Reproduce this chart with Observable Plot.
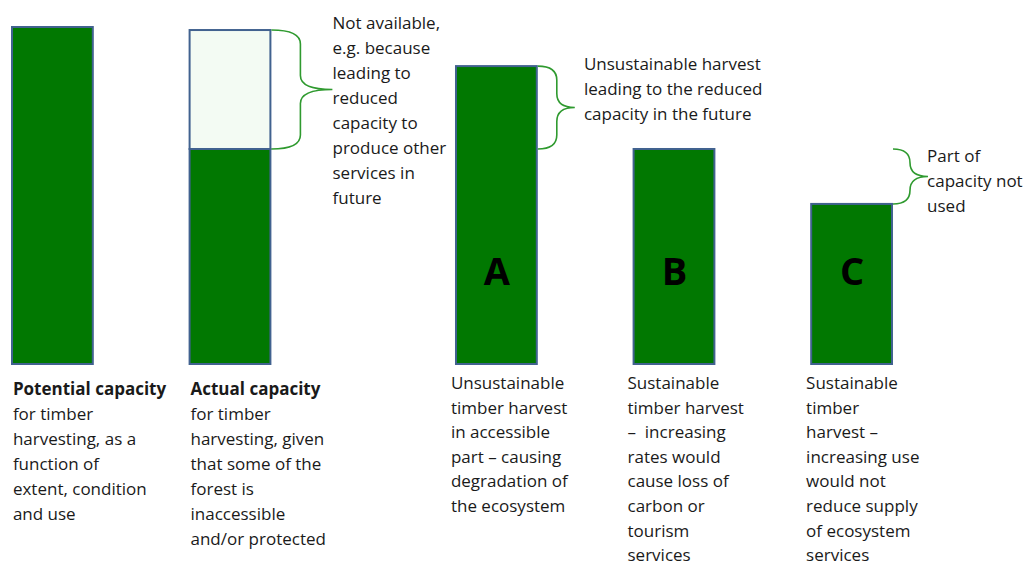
<!DOCTYPE html>
<html>
<head>
<meta charset="utf-8">
<script src="https://cdn.jsdelivr.net/npm/d3@7"></script>
<script src="https://cdn.jsdelivr.net/npm/@observablehq/plot@0.6"></script>
<style>
  html, body { margin: 0; padding: 0; background: #fff; }
  svg { display: block; }
</style>
</head>
<body>
<div id="chart"></div>
<script>
// ---- data ----
const bars = ["Potential", "Actual", "A", "B", "C"];
// capacity in % of potential capacity
const accessible = [100, 63.8, 88.4, 63.8, 47.5];   // dark green part
const notAvailable = [0, 35.3, 0, 0, 0];             // light part on top
const letters = ["", "", "A", "B", "C"];
const headings = ["Potential capacity", "Actual capacity", "", "", ""];
const captions = [
  "for timber\nharvesting, as a\nfunction of\nextent, condition\nand use",
  "for timber\nharvesting, given\nthat some of the\nforest is\ninaccessible\nand/or protected",
  "Unsustainable\ntimber harvest\nin accessible\npart \u2013 causing\ndegradation of\nthe ecosystem",
  "Sustainable\ntimber harvest\n\u2013  increasing\nrates would\ncause loss of\ncarbon or\ntourism\nservices",
  "Sustainable\ntimber\nharvest \u2013\nincreasing use\nwould not\nreduce supply\nof ecosystem\nservices"
];
// braces: bar, from, to, note
const braceBar = ["Actual", "A", "C"];
const braceFrom = [63.8, 63.8, 47.5];
const braceTo = [99.1, 88.4, 63.8];
const braceNote = [
  "Not available,\ne.g. because\nleading to\nreduced\ncapacity to\nproduce other\nservices in\nfuture",
  "Unsustainable harvest\nleading to the reduced\ncapacity in the future",
  "Part of\ncapacity not\nused"
];

// ---- layout helpers (x slots; spacers keep the diagram's grouping) ----
const slots = ["Potential", "s1", "Actual", "s3", "s4", "A", "s6", "B", "s8", "C"];

const table = bars.map((b, i) => ({
  bar: b, acc: accessible[i], top: accessible[i] + notAvailable[i],
  letter: letters[i], heading: headings[i], caption: captions[i]
}));
const braces = braceBar.map((b, i) => ({bar: b, from: braceFrom[i], to: braceTo[i], note: braceNote[i]}));

const FONT = "'Open Sans', Lato, sans-serif";
const green = "#017801";
const edge = "#41628f";
const braceColor = "#2f9a2f";
const textColor = "#1a1a1a";

// brace geometry per brace (pixels): [inner width, outer width]
const braceW = {Actual: [29, 32], A: [19, 18], C: [17, 18]};

function braceMark(index, scales, values, dimensions) {
  const x = scales.x, y = scales.y;
  const bw = x.bandwidth ? x.bandwidth() : 80;
  const g = d3.create("svg:g");
  for (const b of braces) {
    const x0 = x(b.bar) + bw + 1;
    const [w1, w2] = braceW[b.bar];
    const xv = x0 + w1, xt = xv + w2;
    const yT = y(b.to), yB = y(b.from), yM = (yT + yB) / 2;
    const r = Math.min(14, (yB - yT) / 4);
    const d = `M${x0},${yT} Q${xv},${yT} ${xv},${yT + r} L${xv},${yM - r} Q${xv},${yM} ${xt},${yM}` +
              ` Q${xv},${yM} ${xv},${yM + r} L${xv},${yB - r} Q${xv},${yB} ${x0},${yB}`;
    g.append("path").attr("d", d).attr("fill", "none")
      .attr("stroke", braceColor).attr("stroke-width", 1.6);
  }
  return g.node();
}

const fs = 17;
const lh = 25 / fs;

function captionMark(bar, dx, dy, lineHeight = lh) {
  return Plot.text(table.filter(d => d.bar === bar), {
    x: "bar", y: 0, text: "caption", textAnchor: "start", lineAnchor: "top",
    dx, dy, lineHeight, fontSize: fs, fill: textColor, fontFamily: FONT
  });
}

const plot = Plot.plot({
  width: 1029,
  height: 566,
  marginLeft: 12,
  marginRight: 137,
  marginTop: 27,
  marginBottom: 202,
  x: {type: "band", domain: slots, paddingInner: 0.09, paddingOuter: 0, align: 0, round: false, axis: null},
  y: {domain: [0, 100], axis: null},
  style: {fontFamily: FONT, background: "#fff"},
  marks: [
    // accessible / used capacity
    Plot.barY(table, {x: "bar", y1: 0, y2: "acc", fill: green, stroke: edge, strokeWidth: 2, inset: 0}),
    // not available part
    Plot.barY(table.filter(d => d.top > d.acc), {x: "bar", y1: "acc", y2: "top", fill: "#f3fbf3", stroke: edge, strokeWidth: 2, inset: 0}),
    // big letters
    Plot.text(table.filter(d => d.letter), {
      x: "bar", y: 0, text: "letter", dy: -92, fontSize: 38, fontWeight: "bold", fill: "#000", fontFamily: FONT
    }),
    // bold headings
    Plot.text(table.filter(d => d.heading), {
      x: "bar", y: 0, text: "heading", textAnchor: "start", lineAnchor: "top",
      dx: -40, dy: 18, fontSize: fs, fontWeight: "bold", fill: textColor, fontFamily: FONT
    }),
    captionMark("Potential", -40, 37.5),
    captionMark("Actual", -40, 37.5),
    captionMark("A", -46, 7, 24.6 / fs),
    captionMark("B", -47, 7, 24.6 / fs),
    captionMark("C", -46, 7, 24.6 / fs),
    // braces
    braceMark,
    // brace notes
    Plot.text(braces.filter(d => d.bar === "Actual"), {
      x: "bar", y: "to", text: "note", textAnchor: "start", lineAnchor: "top",
      dx: 102, dy: -19.5, lineHeight: lh, fontSize: fs, fill: textColor, fontFamily: FONT
    }),
    Plot.text(braces.filter(d => d.bar === "A"), {
      x: "bar", y: "to", text: "note", textAnchor: "start", lineAnchor: "top",
      dx: 87, dy: -14.5, lineHeight: lh, fontSize: fs, fill: textColor, fontFamily: FONT
    }),
    Plot.text(braces.filter(d => d.bar === "C"), {
      x: "bar", y: "to", text: "note", textAnchor: "start", lineAnchor: "top",
      dx: 75, dy: -5.5, lineHeight: lh, fontSize: fs, fill: textColor, fontFamily: FONT
    })
  ]
});
document.getElementById("chart").appendChild(plot);
</script>
</body>
</html>
